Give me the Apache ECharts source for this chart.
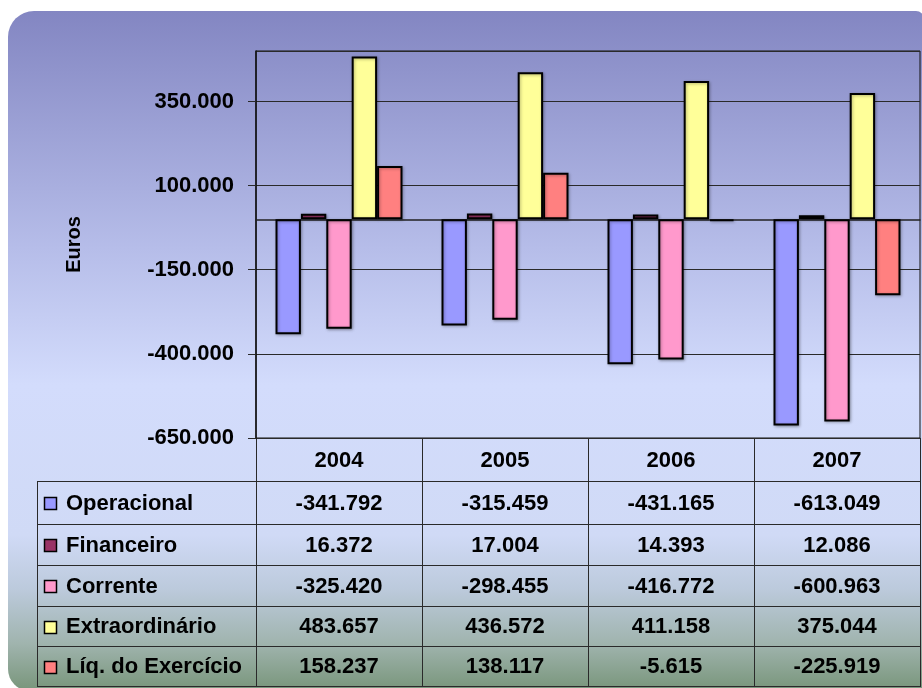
<!DOCTYPE html>
<html>
<head>
<meta charset="utf-8">
<script src="https://cdn.jsdelivr.net/npm/echarts@6/dist/echarts.min.js"></script>
<style>
html,body{margin:0;padding:0;background:#fff;}
#chart{width:922px;height:688px;}
</style>
</head>
<body>
<div id="chart"></div>
<script>
// ---- data ----
const years = ['2004', '2005', '2006', '2007'];
const seriesNames = ['Operacional', 'Financeiro', 'Corrente', 'Extraordinário', 'Líq. do Exercício'];
const operacional = [-341792, -315459, -431165, -613049];
const financeiro = [16372, 17004, 14393, 12086];
const corrente = [-325420, -298455, -416772, -600963];
const extraordinario = [483657, 436572, 411158, 375044];
const liquido = [158237, 138117, -5615, -225919];
const yMin = -650000, yMax = 500000, yStep = 250000;
const axisTitle = 'Euros';

// ---- styles ----
const colors = ['#9999FF', '#993366', '#FF99CC', '#FFFF99', '#FF8080'];
const FONT = '"Liberation Sans", Arial, sans-serif';

const allSeries = [operacional, financeiro, corrente, extraordinario, liquido];

function fmt(v) {
  const s = Math.abs(v).toString().replace(/\B(?=(\d{3})+(?!\d))/g, '.');
  return (v < 0 ? '-' : '') + s;
}

const gridLeft = 256, gridRight = 920, gridTop = 51, gridBottom = 438;
const colW = (gridRight - gridLeft) / years.length;
const rowY = [481, 524, 565, 606, 646, 686];
const tableLeft = 37;

const chart = echarts.init(document.getElementById('chart'), null, {renderer: 'canvas'});

const graphics = [];
graphics.push({
  type: 'rect', z: -100, silent: true,
  shape: {x: 8, y: 11, width: 916, height: 680, r: [26, 8, 0, 22]},
  style: {
    fill: new echarts.graphic.LinearGradient(0, 0, 0, 1, [
      {offset: 0, color: '#8386C2'},
      {offset: 0.35, color: '#B6BDE9'},
      {offset: 0.55, color: '#D3DCFC'},
      {offset: 0.77, color: '#D0DAF6'},
      {offset: 0.85, color: '#BCCADC'},
      {offset: 0.93, color: '#A0B4AE'},
      {offset: 1, color: '#78957A'}
    ])
  }
});

const lineStyle = {stroke: '#2a2a2a', lineWidth: 1};
for (let i = 0; i <= years.length; i++) {
  const x = Math.round(gridLeft + i * colW) + 0.5;
  graphics.push({type: 'line', silent: true, shape: {x1: x, y1: gridBottom, x2: x, y2: rowY[rowY.length - 1]}, style: lineStyle});
}
graphics.push({type: 'line', silent: true, shape: {x1: tableLeft + 0.5, y1: rowY[0], x2: tableLeft + 0.5, y2: rowY[rowY.length - 1]}, style: lineStyle});
rowY.forEach(function (y) {
  graphics.push({type: 'line', silent: true, shape: {x1: tableLeft, y1: y + 0.5, x2: gridRight + 1, y2: y + 0.5}, style: lineStyle});
});
years.forEach(function (yr, i) {
  graphics.push({
    type: 'text', silent: true,
    x: gridLeft + (i + 0.5) * colW, y: (gridBottom + rowY[0]) / 2 + 1,
    style: {text: yr, fill: '#000', font: 'bold 22px ' + FONT, align: 'center', verticalAlign: 'middle'}
  });
});
seriesNames.forEach(function (name, r) {
  const cy = (rowY[r] + rowY[r + 1]) / 2 + 1;
  graphics.push({
    type: 'rect', silent: true,
    shape: {x: 44.5, y: Math.round(cy - 6.5) + 0.5, width: 12, height: 12},
    style: {fill: colors[r], stroke: '#000', lineWidth: 1.5}
  });
  graphics.push({
    type: 'text', silent: true,
    x: 66, y: cy,
    style: {text: name, fill: '#000', font: 'bold 22px ' + FONT, align: 'left', verticalAlign: 'middle'}
  });
  allSeries[r].forEach(function (v, i) {
    graphics.push({
      type: 'text', silent: true,
      x: gridLeft + (i + 0.5) * colW, y: cy,
      style: {text: fmt(v), fill: '#000', font: 'bold 22px ' + FONT, align: 'center', verticalAlign: 'middle'}
    });
  });
});

const option = {
  backgroundColor: '#fff',
  animation: false,
  textStyle: {fontFamily: FONT},
  grid: {
    left: gridLeft, top: gridTop, width: gridRight - gridLeft, height: gridBottom - gridTop,
    show: true, borderColor: '#111', borderWidth: 1, backgroundColor: 'transparent'
  },
  xAxis: {
    type: 'category',
    data: years,
    axisLine: {onZero: true, lineStyle: {color: '#222', width: 1.5}},
    axisTick: {show: false},
    axisLabel: {show: false},
    splitLine: {show: false}
  },
  yAxis: {
    type: 'value',
    min: yMin, max: yMax, interval: yStep,
    name: axisTitle,
    nameLocation: 'middle',
    nameRotate: 90,
    nameGap: 172,
    nameTextStyle: {fontFamily: FONT, fontWeight: 'bold', fontSize: 20, color: '#000'},
    axisLine: {show: true, lineStyle: {color: '#111', width: 1.5}},
    axisTick: {show: true, length: 8, lineStyle: {color: '#2a2a2a'}},
    axisLabel: {
      showMaxLabel: false,
      margin: 22,
      fontFamily: FONT, fontWeight: 'bold', fontSize: 22, color: '#000',
      formatter: function (v) { return fmt(v); }
    },
    splitLine: {show: true, lineStyle: {color: '#2a2a2a', width: 1}}
  },
  series: seriesNames.map(function (name, i) {
    return {
      name: name,
      type: 'bar',
      data: allSeries[i],
      barGap: '0%',
      barCategoryGap: '23.5%',
      itemStyle: {
        color: colors[i], borderColor: '#000', borderWidth: 2,
        shadowColor: 'rgba(0,0,0,0.3)', shadowBlur: 3, shadowOffsetX: 1, shadowOffsetY: 1
      }
    };
  }),
  graphic: graphics
};

chart.setOption(option);
</script>
</body>
</html>
